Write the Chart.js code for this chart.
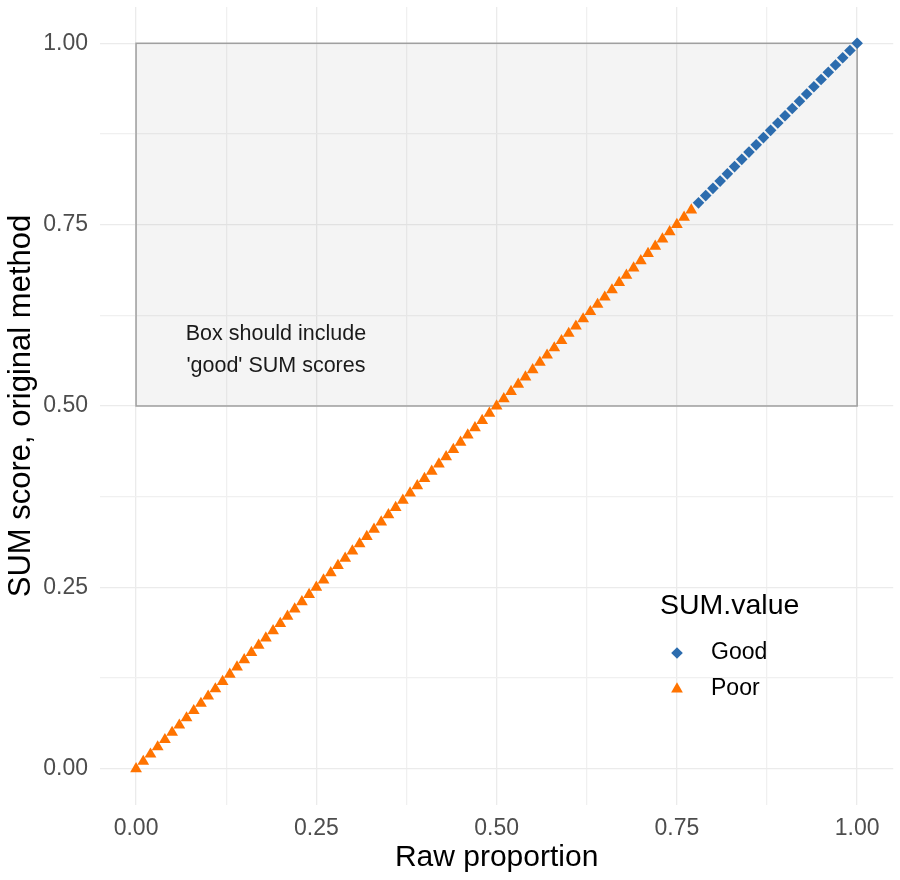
<!DOCTYPE html>
<html>
<head>
<meta charset="utf-8">
<script src="https://cdn.jsdelivr.net/npm/chart.js@4.4.0/dist/chart.umd.min.js"></script>
<style>
  body { margin: 0; background: #fff; }
  #wrap { width: 900px; height: 880px; }
</style>
</head>
<body>
<div id="wrap"><canvas id="myChart" width="900" height="880"></canvas></div>
<script>
// Poor: raw proportion up to 0.77 (orange triangles)
const poorRaw = [0.00, 0.01, 0.02, 0.03, 0.04, 0.05, 0.06, 0.07, 0.08, 0.09,
  0.10, 0.11, 0.12, 0.13, 0.14, 0.15, 0.16, 0.17, 0.18, 0.19,
  0.20, 0.21, 0.22, 0.23, 0.24, 0.25, 0.26, 0.27, 0.28, 0.29,
  0.30, 0.31, 0.32, 0.33, 0.34, 0.35, 0.36, 0.37, 0.38, 0.39,
  0.40, 0.41, 0.42, 0.43, 0.44, 0.45, 0.46, 0.47, 0.48, 0.49,
  0.50, 0.51, 0.52, 0.53, 0.54, 0.55, 0.56, 0.57, 0.58, 0.59,
  0.60, 0.61, 0.62, 0.63, 0.64, 0.65, 0.66, 0.67, 0.68, 0.69,
  0.70, 0.71, 0.72, 0.73, 0.74, 0.75, 0.76, 0.77];
const poorScore = [0.00, 0.01, 0.02, 0.03, 0.04, 0.05, 0.06, 0.07, 0.08, 0.09,
  0.10, 0.11, 0.12, 0.13, 0.14, 0.15, 0.16, 0.17, 0.18, 0.19,
  0.20, 0.21, 0.22, 0.23, 0.24, 0.25, 0.26, 0.27, 0.28, 0.29,
  0.30, 0.31, 0.32, 0.33, 0.34, 0.35, 0.36, 0.37, 0.38, 0.39,
  0.40, 0.41, 0.42, 0.43, 0.44, 0.45, 0.46, 0.47, 0.48, 0.49,
  0.50, 0.51, 0.52, 0.53, 0.54, 0.55, 0.56, 0.57, 0.58, 0.59,
  0.60, 0.61, 0.62, 0.63, 0.64, 0.65, 0.66, 0.67, 0.68, 0.69,
  0.70, 0.71, 0.72, 0.73, 0.74, 0.75, 0.76, 0.77];

// Good: 0.78 and above (blue diamonds)
const goodRaw = [0.78, 0.79, 0.80, 0.81, 0.82, 0.83, 0.84, 0.85, 0.86, 0.87,
  0.88, 0.89, 0.90, 0.91, 0.92, 0.93, 0.94, 0.95, 0.96, 0.97, 0.98, 0.99, 1.00];
const goodScore = [0.78, 0.79, 0.80, 0.81, 0.82, 0.83, 0.84, 0.85, 0.86, 0.87,
  0.88, 0.89, 0.90, 0.91, 0.92, 0.93, 0.94, 0.95, 0.96, 0.97, 0.98, 0.99, 1.00];

// ticks (major + minor gridlines) and their labels
const tickValues = [0, 0.125, 0.25, 0.375, 0.5, 0.625, 0.75, 0.875, 1];
const tickLabels = ['0.00', '', '0.25', '', '0.50', '', '0.75', '', '1.00'];

// the grey box and its note
const boxRaw = [0, 1];
const boxScore = [0.5, 1];
const boxNote = ['Box should include', "'good' SUM scores"];
const notePos = [0.194, 0.577];

const seriesNames = ['Good', 'Poor'];
const legendTitle = 'SUM.value';

const FONT = '"Liberation Sans", Arial, sans-serif';
const blue = '#2c6cae';
const orange = '#ff7300';

const boxPlugin = {
  id: 'boxPlugin',
  beforeDatasetsDraw(chart) {
    const ctx = chart.ctx;
    const x = chart.scales.x, y = chart.scales.y;
    const x0 = x.getPixelForValue(boxRaw[0]), x1 = x.getPixelForValue(boxRaw[1]);
    const y0 = y.getPixelForValue(boxScore[0]), y1 = y.getPixelForValue(boxScore[1]);
    ctx.save();
    ctx.fillStyle = 'rgba(110,110,110,0.08)';
    ctx.fillRect(x0, y1, x1 - x0, y0 - y1);
    ctx.strokeStyle = '#a0a0a0';
    ctx.lineWidth = 1.5;
    ctx.strokeRect(x0, y1, x1 - x0, y0 - y1);
    // note text
    ctx.fillStyle = '#1a1a1a';
    ctx.font = '21.5px ' + FONT;
    ctx.textAlign = 'center';
    ctx.textBaseline = 'middle';
    const nx = x.getPixelForValue(notePos[0]);
    const ny = y.getPixelForValue(notePos[1]);
    ctx.fillText(boxNote[0], nx, ny - 16);
    ctx.fillText(boxNote[1], nx, ny + 16);
    ctx.restore();
  },
  afterDraw(chart) {
    // legend drawn inside the panel, bottom right
    const ctx = chart.ctx;
    const a = chart.chartArea;
    const lx = a.left + 560, ly = a.top + 599;
    ctx.save();
    ctx.fillStyle = '#000';
    ctx.textBaseline = 'middle';
    ctx.textAlign = 'left';
    ctx.font = '28.5px ' + FONT;
    ctx.fillText(legendTitle, lx, ly);
    ctx.font = '23px ' + FONT;
    chart.data.datasets.forEach((ds, i) => {
      const ry = ly + 47 + i * 36;
      ctx.fillStyle = ds.backgroundColor;
      Chart.helpers.drawPoint(ctx, {
        pointStyle: ds.pointStyle, radius: ds.pointRadius, rotation: 0, borderWidth: 0
      }, lx + 17, ry);
      ctx.fillStyle = '#000';
      ctx.fillText(seriesNames[i], lx + 51, ry);
    });
    ctx.restore();
  }
};

function pts(xs, ys) {
  return xs.map((v, i) => ({ x: v, y: ys[i] }));
}

const data = {
  datasets: [{
      label: seriesNames[0],
      data: pts(goodRaw, goodScore),
      pointStyle: 'rectRot',
      pointRadius: 5.8,
      backgroundColor: blue,
      borderColor: blue,
      borderWidth: 0
    },
    {
      label: seriesNames[1],
      data: pts(poorRaw, poorScore),
      pointStyle: 'triangle',
      pointRadius: 6.8,
      backgroundColor: orange,
      borderColor: orange,
      borderWidth: 0
    }
  ]
};

function gridColor(ctx) {
  return (ctx.index % 2 === 0) ? '#ebebeb' : '#f0f0f0';
}

const config = {
  type: 'scatter',
  data: data,
  options: {
    responsive: false,
    animation: false,
    devicePixelRatio: 1,
    layout: { padding: { top: 7, right: 5, left: 0, bottom: 0 } },
    plugins: { legend: { display: false }, tooltip: { enabled: false } },
    scales: {
      x: {
        type: 'linear',
        min: -0.05,
        max: 1.05,
        afterBuildTicks: s => { s.ticks = tickValues.map(v => ({ value: v })); },
        afterFit: s => { s.height = 75; s.paddingLeft = 0; s.paddingRight = 0; },
        border: { display: false },
        grid: { color: gridColor, lineWidth: 1.3, drawTicks: false },
        ticks: {
          autoSkip: false, maxRotation: 0, padding: 10,
          color: '#4d4d4d', font: { family: FONT, size: 23 },
          callback: (v, i) => tickLabels[i]
        },
        title: {
          display: true, text: 'Raw proportion', color: '#000',
          font: { family: FONT, size: 30 }, padding: { top: 0, bottom: 4 }
        }
      },
      y: {
        type: 'linear',
        min: -0.05,
        max: 1.05,
        afterBuildTicks: s => { s.ticks = tickValues.map(v => ({ value: v })); },
        afterFit: s => { s.width = 100; s.paddingTop = 0; s.paddingBottom = 0; },
        border: { display: false },
        grid: { color: gridColor, lineWidth: 1.3, drawTicks: false },
        ticks: {
          autoSkip: false, padding: 12,
          color: '#4d4d4d', font: { family: FONT, size: 23 },
          callback: (v, i) => tickLabels[i]
        },
        title: {
          display: true, text: 'SUM score, original method', color: '#000',
          font: { family: FONT, size: 31 }, padding: { top: 3, bottom: 0 }
        }
      }
    }
  },
  plugins: [boxPlugin]
};

const myChart = new Chart(document.getElementById('myChart'), config);
</script>
</body>
</html>
